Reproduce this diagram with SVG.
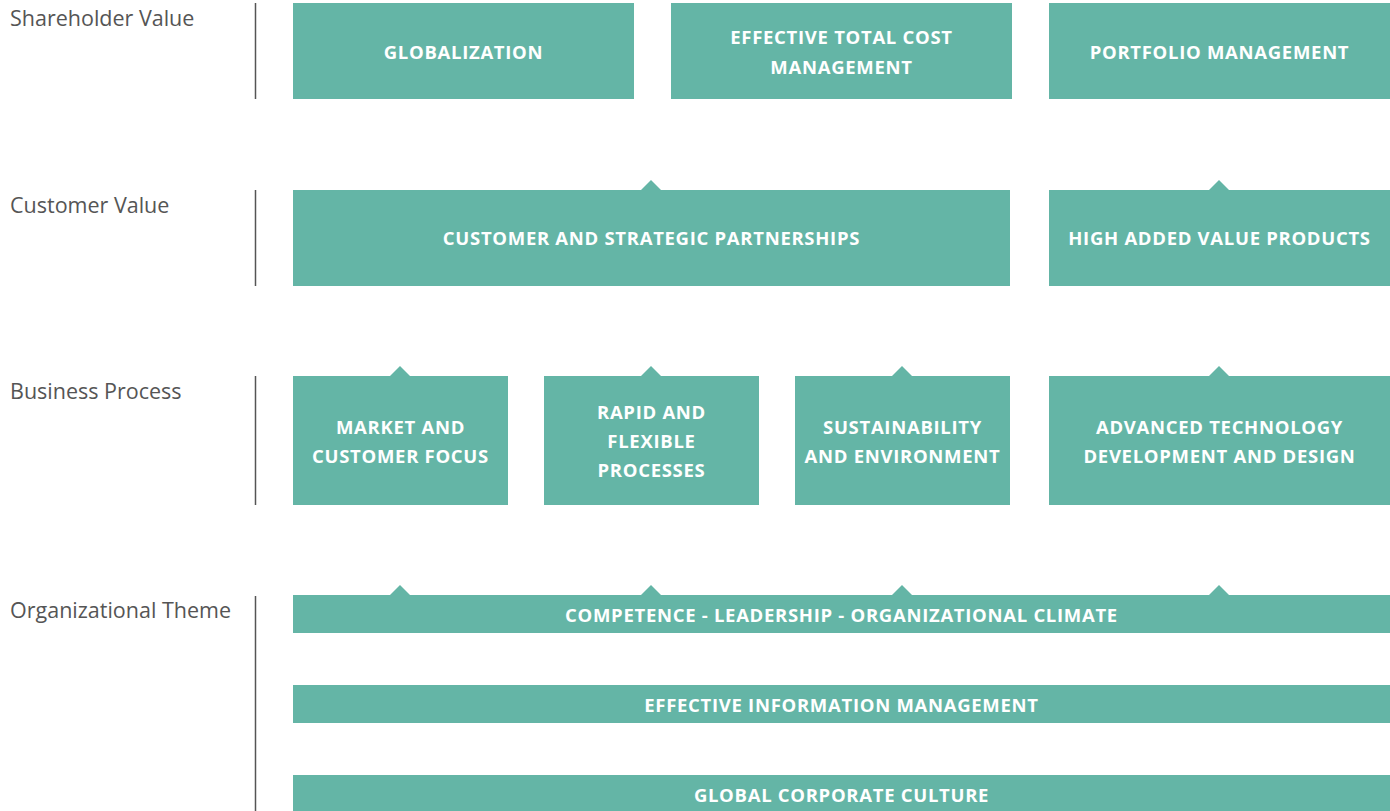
<svg xmlns="http://www.w3.org/2000/svg" width="1390" height="811" viewBox="0 0 1390 811">
  <style>
    .box { fill: #64b5a6; }
    .tip { fill: #64b5a6; }
    .rule { stroke: #555555; stroke-width: 1.5; }
    .lane { font-family: "Open Sans", "Liberation Sans", sans-serif; font-size: 21.5px; fill: #555555; }
    .t { font-family: "Open Sans", "Liberation Sans", sans-serif; font-size: 18.5px; font-weight: 700; fill: #ffffff; text-anchor: middle; letter-spacing: 0.7px; }
  </style>
  <rect width="1390" height="811" fill="#ffffff"/>

  <!-- lane titles and separators -->
  <g id="lanes">
    <text class="lane" x="10" y="26">Shareholder Value</text>
    <text class="lane" x="10" y="213">Customer Value</text>
    <text class="lane" x="10" y="399">Business Process</text>
    <text class="lane" x="10" y="618">Organizational Theme</text>
    <line class="rule" x1="255.5" y1="3" x2="255.5" y2="99"/>
    <line class="rule" x1="255.5" y1="190" x2="255.5" y2="286"/>
    <line class="rule" x1="255.5" y1="376" x2="255.5" y2="505"/>
    <line class="rule" x1="255.5" y1="596" x2="255.5" y2="811"/>
  </g>

  <!-- shareholder value -->
  <g id="globalization">
    <rect class="box" x="293" y="3" width="341" height="96"/>
    <text class="t" x="463.5" y="59">GLOBALIZATION</text>
  </g>
  <g id="cost-management">
    <rect class="box" x="671" y="3" width="341" height="96"/>
    <text class="t" x="841.5" y="44">EFFECTIVE TOTAL COST</text>
    <text class="t" x="841.5" y="74">MANAGEMENT</text>
  </g>
  <g id="portfolio">
    <rect class="box" x="1049" y="3" width="341" height="96"/>
    <text class="t" x="1219.5" y="59">PORTFOLIO MANAGEMENT</text>
  </g>

  <!-- customer value -->
  <g id="partnerships">
    <rect class="box" x="293" y="190" width="717" height="96"/>
    <text class="t" x="651.5" y="245">CUSTOMER AND STRATEGIC PARTNERSHIPS</text>
  </g>
  <g id="high-value-products">
    <rect class="box" x="1049" y="190" width="341" height="96"/>
    <text class="t" x="1219.5" y="245">HIGH ADDED VALUE PRODUCTS</text>
  </g>

  <!-- business process -->
  <g id="market-focus">
    <rect class="box" x="293" y="376" width="215" height="129"/>
    <text class="t" x="400.5" y="434">MARKET AND</text>
    <text class="t" x="400.5" y="463">CUSTOMER FOCUS</text>
  </g>
  <g id="rapid-processes">
    <rect class="box" x="544" y="376" width="215" height="129"/>
    <text class="t" x="651.5" y="419">RAPID AND</text>
    <text class="t" x="651.5" y="448">FLEXIBLE</text>
    <text class="t" x="651.5" y="477">PROCESSES</text>
  </g>
  <g id="sustainability">
    <rect class="box" x="795" y="376" width="215" height="129"/>
    <text class="t" x="902.5" y="434">SUSTAINABILITY</text>
    <text class="t" x="902.5" y="463">AND ENVIRONMENT</text>
  </g>
  <g id="advanced-technology">
    <rect class="box" x="1049" y="376" width="341" height="129"/>
    <text class="t" x="1219.5" y="434">ADVANCED TECHNOLOGY</text>
    <text class="t" x="1219.5" y="463">DEVELOPMENT AND DESIGN</text>
  </g>

  <!-- organizational theme -->
  <g id="competence">
    <rect class="box" x="293" y="595" width="1097" height="38"/>
    <text class="t" x="841.5" y="622">COMPETENCE - LEADERSHIP - ORGANIZATIONAL CLIMATE</text>
  </g>
  <g id="information-management">
    <rect class="box" x="293" y="685" width="1097" height="38"/>
    <text class="t" x="841.5" y="712">EFFECTIVE INFORMATION MANAGEMENT</text>
  </g>
  <g id="corporate-culture">
    <rect class="box" x="293" y="775" width="1097" height="36"/>
    <text class="t" x="841.5" y="802">GLOBAL CORPORATE CULTURE</text>
  </g>

  <!-- upward pointers linking each level to the one above -->
  <g id="connectors">
    <path class="tip" d="M641 190 L651 180 L661 190 Z"/>
    <path class="tip" d="M1209 190 L1219 180 L1229 190 Z"/>
    <path class="tip" d="M390 376 L400 366 L410 376 Z"/>
    <path class="tip" d="M641 376 L651 366 L661 376 Z"/>
    <path class="tip" d="M892 376 L902 366 L912 376 Z"/>
    <path class="tip" d="M1209 376 L1219 366 L1229 376 Z"/>
    <path class="tip" d="M390 595 L400 585 L410 595 Z"/>
    <path class="tip" d="M641 595 L651 585 L661 595 Z"/>
    <path class="tip" d="M892 595 L902 585 L912 595 Z"/>
    <path class="tip" d="M1209 595 L1219 585 L1229 595 Z"/>
  </g>
</svg>
